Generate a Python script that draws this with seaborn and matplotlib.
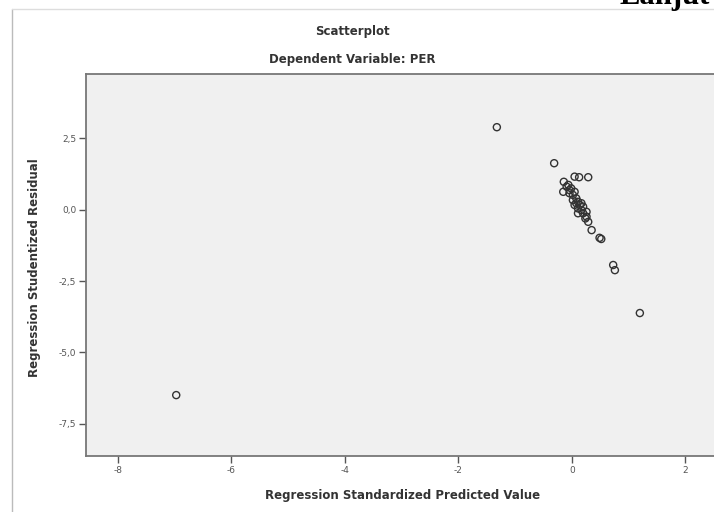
import matplotlib
matplotlib.use("Agg")
import matplotlib.pyplot as plt
import seaborn as sns
import pandas as pd
from matplotlib.lines import Line2D

pred = [-6.97, -1.32, -0.31, 0.05, 0.13, 0.29, -0.14, -0.09, -0.04, -0.15,
        -0.06, -0.01, 0.05, -0.04, 0.02, 0.08, 0.02, 0.11, 0.08, 0.17,
        0.14, 0.05, 0.20, 0.11, 0.17, 0.11, 0.20, 0.26, 0.26, 0.24,
        0.29, 0.35, 0.49, 0.52, 0.73, 0.76, 1.20]
resid = [-6.49, 2.88, 1.62, 1.15, 1.13, 1.13, 0.97, 0.80, 0.68, 0.62,
         0.86, 0.74, 0.62, 0.57, 0.51, 0.39, 0.33, 0.27, 0.22, 0.22,
         0.16, 0.16, 0.10, 0.04, -0.02, -0.13, -0.13, -0.08, -0.25, -0.31,
         -0.43, -0.72, -0.99, -1.03, -1.94, -2.12, -3.62]
xticks = [-8, -6, -4, -2, 0, 2]
yticks = [2.5, 0.0, -2.5, -5.0, -7.5]
ytick_labels = ["2,5", "0,0", "-2,5", "-5,0", "-7,5"]

df = pd.DataFrame({"pred": pred, "resid": resid})

sns.set_style("white")
plt.rcParams['font.family'] = ['DejaVu Sans']

W, H = 714, 512
fig = plt.figure(figsize=(W / 100, H / 100), dpi=100)
ax = fig.add_axes([86 / W, (H - 456) / H, (742 - 86) / W, (456 - 74) / H])
ax.set_facecolor("#f0f0f0")

sns.scatterplot(data=df, x="pred", y="resid", ax=ax, marker="o", s=26,
                facecolors="none", edgecolor="#333333", linewidth=1.0)

ax.set_xlim(-8.56, 3.0)
ax.set_ylim(-8.62, 4.74)
ax.set_xticks(xticks)
ax.set_xticklabels([str(t) for t in xticks])
ax.set_yticks(yticks)
ax.set_yticklabels(ytick_labels)
ax.tick_params(axis="both", direction="out", length=5, width=1, color="#555555",
               labelsize=6.5, labelcolor="#555555", pad=2, left=True, bottom=True)
for sp in ax.spines.values():
    sp.set_color("#777777")
    sp.set_linewidth(1.3)
ax.set_xlabel("")
ax.set_ylabel("")

fig.text(403 / W, 1 - 495 / H, "Regression Standardized Predicted Value",
         ha="center", va="center", fontsize=8.5, fontweight="bold", color="#333333")
fig.text(35 / W, 1 - 268 / H, "Regression Studentized Residual", rotation=90,
         ha="center", va="center", fontsize=8.5, fontweight="bold", color="#333333")
fig.text(352 / W, 1 - 31 / H, "Scatterplot", ha="center", va="center",
         fontsize=8.5, fontweight="bold", color="#333333")
fig.text(352 / W, 1 - 59 / H, "Dependent Variable: PER", ha="center", va="center",
         fontsize=8.5, fontweight="bold", color="#333333")

fig.add_artist(Line2D([12 / W, 12 / W], [0, 1 - 9 / H], transform=fig.transFigure,
                      color="#bbbbbb", linewidth=1))
fig.add_artist(Line2D([12 / W, 1], [1 - 9 / H, 1 - 9 / H], transform=fig.transFigure,
                      color="#dddddd", linewidth=1))
fig.text(620 / W, 1 - 4 / H, "Lanjut", ha="left", va="baseline", fontsize=22,
         fontweight="bold", family="Liberation Serif", color="black")

fig.savefig("out.png", dpi=100, facecolor="white")
